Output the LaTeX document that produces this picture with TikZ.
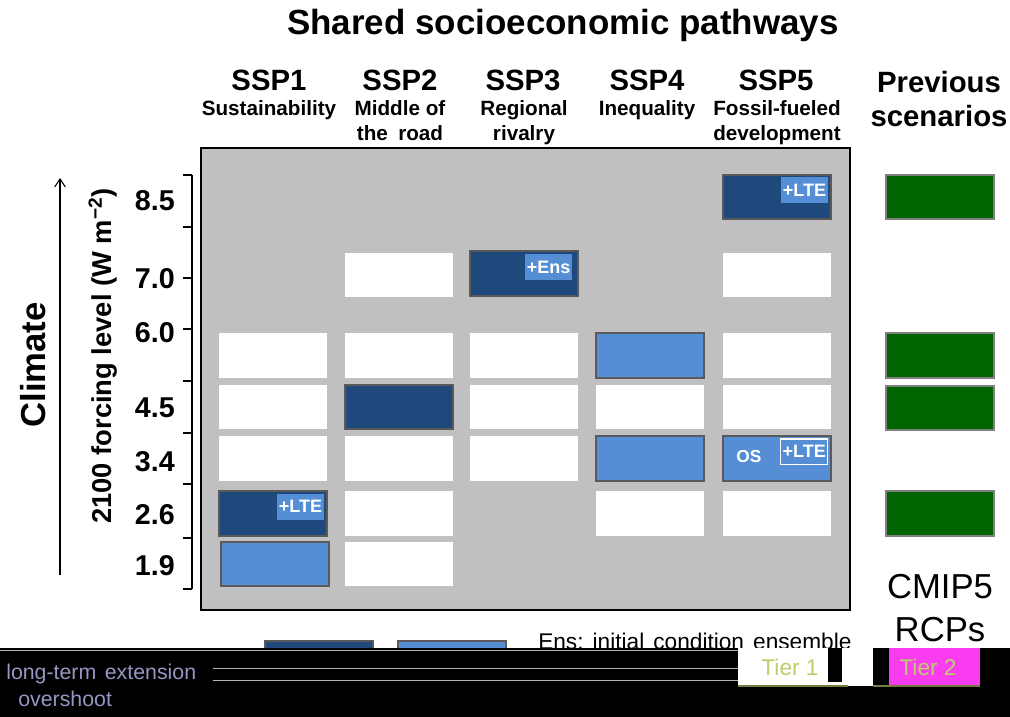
\documentclass[tikz,border=0pt]{standalone}
\usepackage{fontspec}
\setmainfont{Liberation Sans}
\usetikzlibrary{positioning,arrows.meta}

\definecolor{ssdark}{RGB}{31,73,125}
\definecolor{sslight}{RGB}{85,142,213}
\definecolor{ssgreen}{RGB}{0,100,0}
\definecolor{sspanel}{RGB}{192,192,192}
\definecolor{ssedge}{RGB}{90,90,90}
\definecolor{ssmagenta}{RGB}{250,60,240}
\definecolor{sstier}{RGB}{190,205,110}
\definecolor{ssghost}{RGB}{150,150,195}

\tikzset{
  sbox/.style={minimum width=81.5pt, minimum height=33.5pt, inner sep=0pt},
  wbox/.style={sbox, fill=white},
  dbox/.style={sbox, fill=ssdark, draw=ssedge, line width=1.6pt},
  lbox/.style={sbox, fill=sslight, draw=ssedge, line width=1.6pt},
  gbox/.style={sbox, fill=ssgreen, draw=gray, line width=1.6pt},
  tag/.style={fill=sslight, text=white, font=\bfseries\fontsize{13.5}{15}\selectfont,
    inner sep=1.5pt, minimum height=19.5pt},
  head/.style={font=\bfseries\fontsize{22}{26}\selectfont, inner sep=0pt, anchor=base},
  sub/.style={font=\bfseries\fontsize{15.5}{18}\selectfont, inner sep=0pt, anchor=base},
  lvl/.style={font=\bfseries\fontsize{21.5}{25}\selectfont, inner sep=0pt, anchor=east}
}

\begin{document}
\begin{tikzpicture}[x=0.75pt, y=-0.75pt]
  \useasboundingbox (0,0) rectangle (1010,717);
  \fill[white] (0,0) rectangle (1010,717);

  % Headings
  \node[font=\bfseries\fontsize{26.2}{31}\selectfont, inner sep=0pt, anchor=base] (title) at (563,35) {Shared socioeconomic pathways};
  \node[head] (ssp1) at (269,90) {SSP1};
  \node[head] (ssp2) at (400,90) {SSP2};
  \node[head] (ssp3) at (523,90) {SSP3};
  \node[head] (ssp4) at (647,90) {SSP4};
  \node[head] (ssp5) at (776,90) {SSP5};
  \node[sub] (sub1) at (269,115) {Sustainability};
  \node[sub] (sub2a) at (400,115) {Middle of};
  \node[sub] (sub2b) at (400,140) {the\hspace{0.5em}road};
  \node[sub] (sub3a) at (524,115) {Regional};
  \node[sub] (sub3b) at (524,140) {rivalry};
  \node[sub] (sub4) at (647,115) {Inequality};
  \node[sub] (sub5a) at (777,115) {Fossil-fueled};
  \node[sub] (sub5b) at (777,140) {development};
  \node[head] (prev1) at (939,93) {Previous};
  \node[head] (prev2) at (939,127) {scenarios};

  % Axis
  \node[font=\bfseries\fontsize{26}{30}\selectfont, inner sep=0pt, rotate=90] (climate) at (33,365) {Climate};
  \coordinate (abot) at (60,575);
  \coordinate (atop) at (60,178);
  \draw[-{Straight Barb[length=6pt,width=8pt]}, line width=0.8pt] (abot) -- (atop);
  \node[font=\bfseries\fontsize{20.5}{24}\selectfont, inner sep=0pt, rotate=90] (forcing) at (103,356) {2100 forcing level (W m\textsuperscript{−2})};
  \draw[line width=0.8pt] (192,175) -- (192,589);
  \foreach \ty in {175,227,278,329,381,433,484,538,589}
    \draw[line width=0.8pt] (183,\ty) -- (192,\ty);
  \node[lvl] (l85) at (175,201) {8.5};
  \node[lvl] (l70) at (175,279) {7.0};
  \node[lvl] (l60) at (175,333) {6.0};
  \node[lvl] (l45) at (175,408) {4.5};
  \node[lvl] (l34) at (175,462) {3.4};
  \node[lvl] (l26) at (175,515) {2.6};
  \node[lvl] (l19) at (175,566) {1.9};

  % Panel
  \draw[fill=sspanel, line width=1.6pt] (201,148) rectangle (850,610);

  % SSP1
  \node[wbox] (s1r60) at (273,355.5) {};
  \node[wbox] (s1r45) at (273,407) {};
  \node[wbox] (s1r34) at (273,458.5) {};
  \node[dbox] (s1r26) at (273,513.5) {};
  \node[lbox] (s1r19) at (275,564) {};
  % SSP2
  \node[wbox] (s2r70) at (399,275) {};
  \node[wbox] (s2r60) at (399,355.5) {};
  \node[dbox] (s2r45) at (399,407) {};
  \node[wbox] (s2r34) at (399,458.5) {};
  \node[wbox] (s2r26) at (399,513.5) {};
  \node[wbox] (s2r19) at (399,564) {};
  % SSP3
  \node[dbox] (s3r70) at (524,273.5) {};
  \node[wbox] (s3r60) at (524,355.5) {};
  \node[wbox] (s3r45) at (524,407) {};
  \node[wbox] (s3r34) at (524,458.5) {};
  % SSP4
  \node[lbox] (s4r60) at (650,355.5) {};
  \node[wbox] (s4r45) at (650,407) {};
  \node[lbox] (s4r34) at (650,458.5) {};
  \node[wbox] (s4r26) at (650,513.5) {};
  % SSP5
  \node[dbox] (s5r85) at (777,197) {};
  \node[wbox] (s5r70) at (777,275) {};
  \node[wbox] (s5r60) at (777,355.5) {};
  \node[wbox] (s5r45) at (777,407) {};
  \node[lbox] (s5r34) at (777,458.5) {};
  \node[wbox] (s5r26) at (777,513.5) {};
  % Previous scenarios
  \node[gbox] (pr85) at (940,197) {};
  \node[gbox] (pr60) at (940,355.5) {};
  \node[gbox] (pr45) at (940,408) {};
  \node[gbox] (pr26) at (940,513.5) {};

  % Tags
  \node[tag, below left=2.5pt and 3pt of s5r85.north east] (t85) {+LTE};
  \node[tag, below left=2.5pt and 3pt of s1r26.north east] (t26) {+LTE};
  \node[tag, below left=3pt and 5pt of s3r70.north east] (t70) {+Ens};
  \node[tag, draw=white, line width=0.8pt, minimum height=19pt, below left=2.5pt and 3pt of s5r34.north east] (t34) {+LTE};
  \node[text=white, font=\bfseries\fontsize{13}{15}\selectfont, inner sep=0pt] (os) at (749,457) {OS};

  \node[font=\fontsize{26}{31}\selectfont, inner sep=0pt, anchor=base] (cmip) at (940,598) {CMIP5};
  \node[font=\fontsize{26}{31}\selectfont, inner sep=0pt, anchor=base] (rcps) at (940,641) {RCPs};

  % Legend (cut off below)
  \node[dbox, anchor=north] (legdark) at (319,640) {};
  \node[lbox, anchor=north] (leglight) at (452,640) {};
  \node[font=\fontsize{17}{20}\selectfont, inner sep=0pt, anchor=base west] (ens) at (538,649) {Ens:\hspace{0.4em}initial\hspace{0.4em}condition\hspace{0.4em}ensemble};

  \fill[black] (0,648) rectangle (1010,717);
  \draw[gray!60, line width=0.6pt] (0,650) -- (738,650);
  \draw[gray!60, line width=0.6pt] (213,668) -- (738,668);
  \draw[gray!60, line width=0.6pt] (213,680) -- (738,680);
  \fill[white] (738,648) rectangle (873,686);
  \fill[black] (828,648) rectangle (842,682);
  \fill[black] (874,648) rectangle (889,686);
  \fill[ssmagenta] (889,648) rectangle (980,686);
  \draw[sstier!60!black, line width=1.4pt] (738,686) -- (848,686);
  \draw[sstier!60!black, line width=1.4pt] (873,686) -- (980,686);
  \node[text=sstier, font=\fontsize{17}{20}\selectfont, inner sep=0pt] (tier1) at (790,667) {Tier 1};
  \node[text=sstier, font=\fontsize{17}{20}\selectfont, inner sep=0pt] (tier2) at (928,667) {Tier 2};
  \node[text=ssghost, font=\fontsize{16}{19}\selectfont, inner sep=0pt, anchor=base west] (lte) at (6,679) {long-term\hspace{0.4em}extension};
  \node[text=ssghost, font=\fontsize{16}{19}\selectfont, inner sep=0pt, anchor=base west] (ovs) at (18,706) {overshoot};
\end{tikzpicture}
\end{document}
